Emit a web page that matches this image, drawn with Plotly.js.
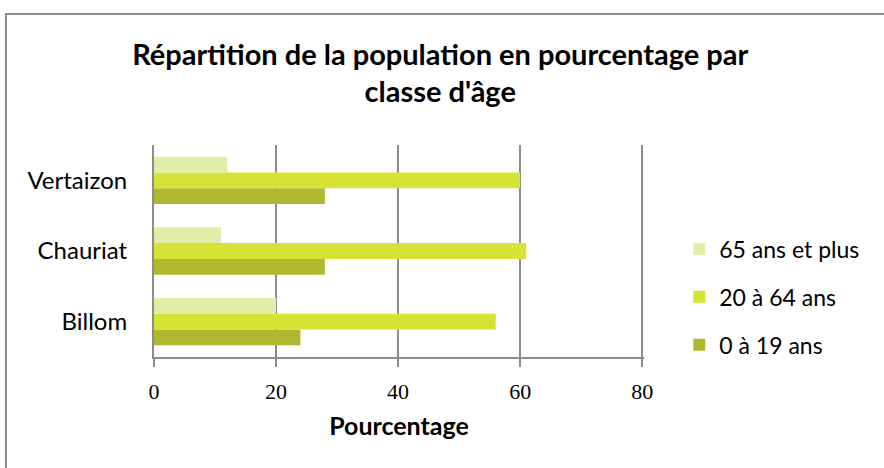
<!DOCTYPE html>
<html><head><meta charset="utf-8">
<script src="https://cdn.plot.ly/plotly-3.0.1.min.js"></script>
<style>body{margin:0;background:#fff}#frame{position:absolute;left:5px;top:13px;width:900px;height:480px;border:2px solid #8c8c8c;pointer-events:none}</style>
</head><body>
<div id="chart" style="width:884px;height:468px"></div>
<div id="frame"></div>
<script>
const communes = ['Billom', 'Chauriat', 'Vertaizon'];
const age0_19 = [24, 28, 28];
const age20_64 = [56, 61, 60];
const age65plus = [20, 11, 12];
const xTicks = [0, 20, 40, 60, 80];

const traces = [
  {type:'bar', orientation:'h', name:'0 à 19 ans', legendgroup:'c', legendrank:3, y:communes, x:age0_19, marker:{color:'#b0b92e'}},
  {type:'bar', orientation:'h', name:'20 à 64 ans', legendgroup:'b', legendrank:2, y:communes, x:age20_64, marker:{color:'#d6e335'}},
  {type:'bar', orientation:'h', name:'65 ans et plus', legendgroup:'a', legendrank:1, y:communes, x:age65plus, marker:{color:'#e2eda8'}}
];
const layout = {
  width:884, height:468,
  margin:{l:154, r:240, t:145, b:111},
  paper_bgcolor:'#fff', plot_bgcolor:'#fff',
  barmode:'group', bargap:0.33, bargroupgap:0,
  showlegend:true,
  title:{text:'<b>Répartition de la population en pourcentage par<br>classe d\'âge</b>', x:0.498, xanchor:'center', y:0.862, yanchor:'middle',
    font:{family:'Lato, sans-serif', size:29, color:'#000'}},
  xaxis:{range:[0,80.3], tickvals:xTicks, ticktext:xTicks.map(String), showgrid:true, gridcolor:'#8c8c8c', gridwidth:2,
    zeroline:false, showline:true, linecolor:'#8c8c8c', linewidth:2, ticks:'outside', ticklen:8, tickcolor:'#8c8c8c', tickwidth:2,
    tickfont:{family:'Liberation Serif, serif', size:22, color:'#000'}, ticklabelstandoff:6,
    title:{text:'<b>Pourcentage</b>', font:{family:'Lato, sans-serif', size:25, color:'#000'}, standoff:14}},
  yaxis:{showline:true, linecolor:'#8c8c8c', linewidth:2, ticks:'', showgrid:false,
    tickfont:{family:'Lato, sans-serif', size:24, color:'#000'}, ticklabelstandoff:20},
  legend:{x:1.072, xanchor:'left', y:0.283, yanchor:'middle', traceorder:'grouped', tracegroupgap:15,
    font:{family:'Lato, sans-serif', size:23, color:'#000'}, itemwidth:30, bgcolor:'rgba(0,0,0,0)'},
  shapes:[]
};
Plotly.newPlot('chart', traces, layout, {displayModeBar:false});
</script>
</body></html>
